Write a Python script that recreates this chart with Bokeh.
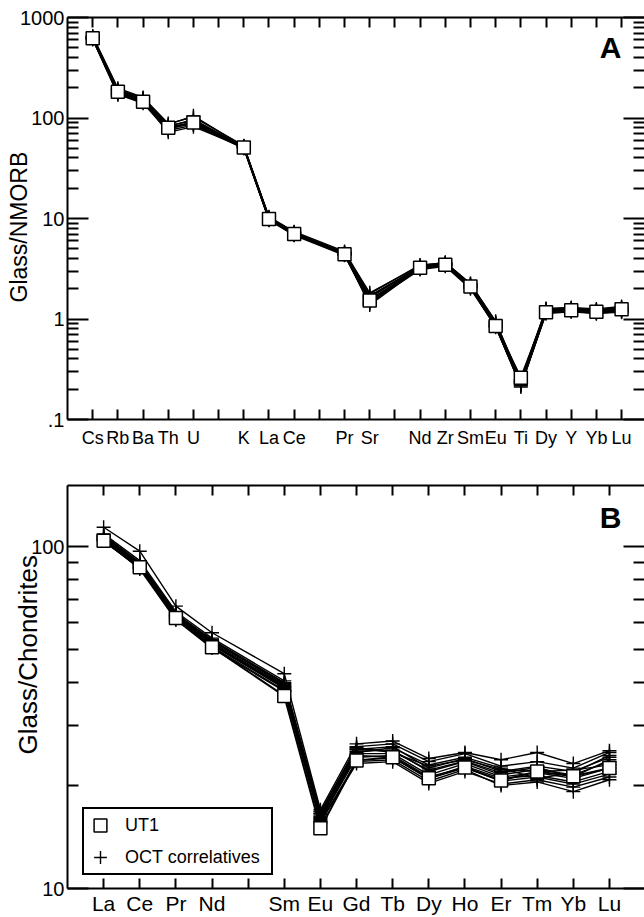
from bokeh.plotting import figure
from bokeh.layouts import column
from bokeh.models import (ColumnDataSource, FixedTicker, Label, Legend, LegendItem,
                          LinearAxis, LogAxis, Range1d, Title)
from bokeh.embed import file_html
from bokeh.resources import INLINE

FONT = "Liberation Sans"

# ---------------------------------------------------------------- panel A data
# element slots along the x axis (blank = empty tick)
nmorb_slots = ["Cs", "Rb", "Ba", "Th", "U", "", "K", "La", "Ce", "", "Pr", "Sr", "",
               "Nd", "Zr", "Sm", "Eu", "Ti", "Dy", "Y", "Yb", "Lu"]
nmorb_elements = ["Cs", "Rb", "Ba", "Th", "U", "K", "La", "Ce", "Pr", "Sr",
                  "Nd", "Zr", "Sm", "Eu", "Ti", "Dy", "Y", "Yb", "Lu"]

ut1_nmorb = [620, 182, 145, 80, 90, 51, 9.9, 7.0, 4.4, 1.53,
             3.24, 3.47, 2.1, 0.85, 0.26, 1.17, 1.22, 1.18, 1.25]

oct_nmorb_1 = [640, 190, 152, 84, 94, 52, 10.2, 7.2, 4.5, 1.62, 3.35, 3.55, 2.15, 0.90, 0.24, 1.20, 1.25, 1.20, 1.27]
oct_nmorb_2 = [605, 172, 140, 75, 85, 50, 9.7, 6.8, 4.3, 1.45, 3.10, 3.35, 2.00, 0.84, 0.22, 1.15, 1.19, 1.14, 1.19]
oct_nmorb_3 = [655, 198, 160, 88, 102, 53, 10.4, 7.4, 4.7, 1.78, 3.45, 3.62, 2.25, 0.93, 0.25, 1.26, 1.28, 1.23, 1.31]
oct_nmorb_4 = [620, 178, 143, 72, 82, 51, 9.8, 6.9, 4.4, 1.38, 3.20, 3.45, 2.08, 0.86, 0.21, 1.17, 1.21, 1.16, 1.22]
oct_nmorb_5 = [630, 186, 155, 82, 97, 52, 10.0, 7.1, 4.6, 1.68, 3.30, 3.52, 2.18, 0.89, 0.23, 1.22, 1.24, 1.21, 1.26]
oct_nmorb_6 = [612, 170, 146, 78, 88, 50, 9.6, 6.9, 4.35, 1.50, 3.15, 3.40, 2.05, 0.83, 0.22, 1.13, 1.18, 1.13, 1.17]
oct_nmorb_7 = [648, 194, 158, 86, 105, 52, 10.3, 7.3, 4.55, 1.82, 3.40, 3.66, 2.24, 0.95, 0.24, 1.27, 1.30, 1.26, 1.33]
oct_nmorb_8 = [625, 182, 148, 80, 90, 51, 9.9, 7.0, 4.45, 1.55, 3.25, 3.50, 2.12, 0.87, 0.225, 1.19, 1.23, 1.18, 1.24]
oct_nmorb_9 = [615, 176, 150, 77, 92, 51, 9.75, 6.95, 4.38, 1.42, 3.22, 3.42, 2.06, 0.85, 0.215, 1.16, 1.22, 1.17, 1.21]
oct_nmorb_10 = [635, 188, 145, 83, 86, 52, 10.1, 7.15, 4.52, 1.70, 3.32, 3.58, 2.20, 0.91, 0.235, 1.24, 1.26, 1.22, 1.29]
oct_nmorb = [oct_nmorb_1, oct_nmorb_2, oct_nmorb_3, oct_nmorb_4, oct_nmorb_5,
             oct_nmorb_6, oct_nmorb_7, oct_nmorb_8, oct_nmorb_9, oct_nmorb_10]

nmorb_major = [0.1, 1, 10, 100, 1000]
nmorb_major_labels = [".1", "1", "10", "100", "1000"]
nmorb_minor = [m * d for d in (0.1, 1, 10, 100) for m in range(2, 10)]

# ---------------------------------------------------------------- panel B data
ree_slots = ["La", "Ce", "Pr", "Nd", "", "Sm", "Eu", "Gd", "Tb", "Dy", "Ho", "Er", "Tm", "Yb", "Lu"]
ree_elements = ["La", "Ce", "Pr", "Nd", "Sm", "Eu", "Gd", "Tb", "Dy", "Ho", "Er", "Tm", "Yb", "Lu"]

ut1_chondrite = [104, 87, 61.8, 50.8, 36.6, 15.0, 23.7, 24.2, 21.0, 22.6, 20.7, 22.0, 21.3, 22.5]

oct_chondrite_1 = [114, 97, 67, 56, 42.5, 17.0, 26.5, 27.0, 24.0, 25.0, 23.8, 25.0, 23.2, 25.3]
oct_chondrite_2 = [109, 91, 64.5, 54, 40.5, 16.6, 26.0, 26.5, 23.5, 24.8, 22.8, 23.5, 22.5, 25.0]
oct_chondrite_3 = [107, 89, 63, 53, 39.5, 16.3, 25.5, 26.0, 22.5, 24.0, 22.0, 22.8, 22.0, 24.2]
oct_chondrite_4 = [106, 88, 62.5, 52, 39, 16.0, 25.2, 25.4, 22.0, 23.5, 21.5, 22.3, 21.5, 23.5]
oct_chondrite_5 = [108, 90, 63.5, 53.5, 40, 16.8, 25.8, 25.0, 22.8, 23.8, 22.3, 22.0, 22.2, 23.0]
oct_chondrite_6 = [105, 87, 62, 51.5, 38.5, 15.8, 24.8, 24.8, 21.5, 23.2, 21.2, 21.8, 21.0, 22.5]
oct_chondrite_7 = [106.5, 88.5, 63, 52.5, 39.2, 16.2, 24.5, 24.2, 21.0, 22.8, 21.0, 21.4, 20.5, 22.0]
oct_chondrite_8 = [104, 86.5, 61.5, 51, 38.0, 15.6, 23.2, 23.5, 20.3, 22.0, 20.2, 20.8, 19.8, 21.2]
oct_chondrite_9 = [105.5, 87.5, 62.2, 52, 38.8, 16.1, 25.0, 25.8, 23.0, 24.2, 22.5, 21.0, 21.8, 24.5]
oct_chondrite_10 = [104.5, 86, 61, 50.5, 37.8, 15.7, 23.5, 23.8, 20.6, 22.3, 20.0, 20.5, 19.2, 20.8]
oct_chondrite_11 = [107.5, 89.5, 64, 53, 39.8, 16.5, 25.6, 25.2, 22.2, 23.6, 21.8, 22.6, 21.2, 23.8]
oct_chondrite_12 = [105, 87, 62.8, 51.8, 38.6, 15.9, 24.2, 24.5, 21.2, 22.6, 20.6, 21.2, 20.2, 21.6]
oct_chondrite = [oct_chondrite_1, oct_chondrite_2, oct_chondrite_3, oct_chondrite_4,
                 oct_chondrite_5, oct_chondrite_6, oct_chondrite_7, oct_chondrite_8,
                 oct_chondrite_9, oct_chondrite_10, oct_chondrite_11, oct_chondrite_12]

ree_major = [10, 100]
ree_major_labels = ["10", "100"]
ree_minor = [20, 30, 40, 50, 60, 70, 80, 90]


def style_y_axis(ax, show_labels):
    ax.axis_line_width = 2
    ax.major_tick_line_width = 2
    ax.minor_tick_line_width = 2
    ax.major_tick_in = 21
    ax.major_tick_out = 0
    ax.minor_tick_in = 11
    ax.minor_tick_out = 0
    ax.major_label_text_font = FONT
    ax.major_label_text_color = "black"
    if show_labels:
        ax.major_label_text_font_size = "20px"
        ax.major_label_standoff = 3
    else:
        ax.major_label_text_font_size = "0px"
        ax.major_label_standoff = 0


def style_x_axis(ax, show_labels, font_size, standoff):
    ax.axis_line_width = 2
    ax.major_tick_line_width = 2
    ax.major_tick_in = 10
    ax.major_tick_out = 0
    ax.minor_tick_line_color = None
    ax.major_label_text_font = FONT
    ax.major_label_text_color = "black"
    if show_labels:
        ax.major_label_text_font_size = font_size
        ax.major_label_standoff = standoff
    else:
        ax.major_label_text_font_size = "0px"
        ax.major_label_standoff = 0


def make_panel(slots, elements, ut1, oct_series, y_start, y_end, y_major, y_major_labels,
               y_minor, x_end, height, border_top, border_bottom, ytitle, ytitle_size,
               ytitle_offset, letter, letter_y, xlabel_size, xlabel_standoff, with_legend):
    p = figure(width=644, height=height, x_range=Range1d(-1, x_end),
               y_range=Range1d(y_start, y_end), y_axis_type="log",
               output_backend="svg", toolbar_location=None,
               min_border_left=67, min_border_right=0,
               min_border_top=border_top, min_border_bottom=border_bottom)
    p.outline_line_color = None
    p.xgrid.visible = False
    p.ygrid.visible = False
    p.background_fill_color = "white"
    p.border_fill_color = "white"

    xs = [slots.index(e) for e in elements]

    x_ticks = list(range(len(slots)))
    x_overrides = {i: (s if s else " ") for i, s in enumerate(slots)}
    y_overrides = {v: lab for v, lab in zip(y_major, y_major_labels)}

    # bottom / top x axes
    xb = p.xaxis[0]
    xb.ticker = FixedTicker(ticks=x_ticks)
    xb.major_label_overrides = x_overrides
    style_x_axis(xb, True, xlabel_size, xlabel_standoff)

    xt = LinearAxis(ticker=FixedTicker(ticks=x_ticks))
    xt.major_label_overrides = {i: " " for i in x_ticks}
    style_x_axis(xt, False, None, 0)
    p.add_layout(xt, "above")

    # left / right log axes
    yl = p.yaxis[0]
    yl.ticker = FixedTicker(ticks=y_major, minor_ticks=y_minor)
    yl.major_label_overrides = y_overrides
    style_y_axis(yl, True)

    yr = LogAxis(ticker=FixedTicker(ticks=y_major, minor_ticks=y_minor))
    yr.major_label_overrides = {v: " " for v in y_major}
    style_y_axis(yr, False)
    yr.axis_line_color = None
    p.add_layout(yr, "right")

    # y-axis title, tucked in beside the tick labels
    p.add_layout(Title(text=ytitle, align="left", offset=ytitle_offset,
                       vertical_align="bottom", standoff=-28,
                       text_font=FONT, text_font_size=ytitle_size,
                       text_font_style="normal", text_color="black"), "left")

    # correlative samples: thin lines with "+" markers
    cross_x, cross_y = [], []
    for s in oct_series:
        p.line(xs, s, line_color="black", line_width=1.4)
        cross_x.extend(xs)
        cross_y.extend(s)
    crosses = p.scatter(x="x", y="y", source=ColumnDataSource(dict(x=cross_x, y=cross_y)),
                        marker="cross", size=14, line_color="black", line_width=1.4)

    # UT1 glass: heavier line with open squares
    p.line(xs, ut1, line_color="black", line_width=2)
    squares = p.scatter(xs, ut1, marker="square", size=13, fill_color="white",
                        line_color="black", line_width=1.5)

    p.add_layout(Label(x=543, y=letter_y, x_units="screen", y_units="screen",
                       text=letter, text_align="center", text_baseline="middle",
                       text_font=FONT, text_font_style="bold", text_font_size="30px",
                       text_color="black"))

    if with_legend:
        legend = Legend(items=[LegendItem(label="UT1", renderers=[squares]),
                               LegendItem(label="OCT correlatives", renderers=[crosses])],
                        location=(15, 13), orientation="vertical",
                        glyph_width=32, glyph_height=32, label_height=32,
                        label_width=146, label_standoff=9, spacing=0,
                        padding=0, margin=0,
                        border_line_color="black", border_line_width=2,
                        border_line_alpha=1.0,
                        background_fill_color="white", background_fill_alpha=1.0,
                        label_text_font=FONT, label_text_font_size="18px",
                        label_text_color="black")
        p.add_layout(legend, "center")
    return p


top = make_panel(nmorb_slots, nmorb_elements, ut1_nmorb, oct_nmorb,
                 0.1, 1000, nmorb_major, nmorb_major_labels, nmorb_minor,
                 x_end=21.91, height=450, border_top=17, border_bottom=28,
                 ytitle="Glass/NMORB", ytitle_size="23px", ytitle_offset=117,
                 letter="A", letter_y=372,
                 xlabel_size="18px", xlabel_standoff=8, with_legend=False)

bottom = make_panel(ree_slots, ree_elements, ut1_chondrite, oct_chondrite,
                    10, 151, ree_major, ree_major_labels, ree_minor,
                    x_end=14.97, height=467, border_top=35, border_bottom=26,
                    ytitle="Glass/Chondrites", ytitle_size="26px", ytitle_offset=134,
                    letter="B", letter_y=371,
                    xlabel_size="21px", xlabel_standoff=3, with_legend=True)

layout = column(top, bottom, spacing=0)
open("out.html", "w").write(file_html(layout, INLINE))
